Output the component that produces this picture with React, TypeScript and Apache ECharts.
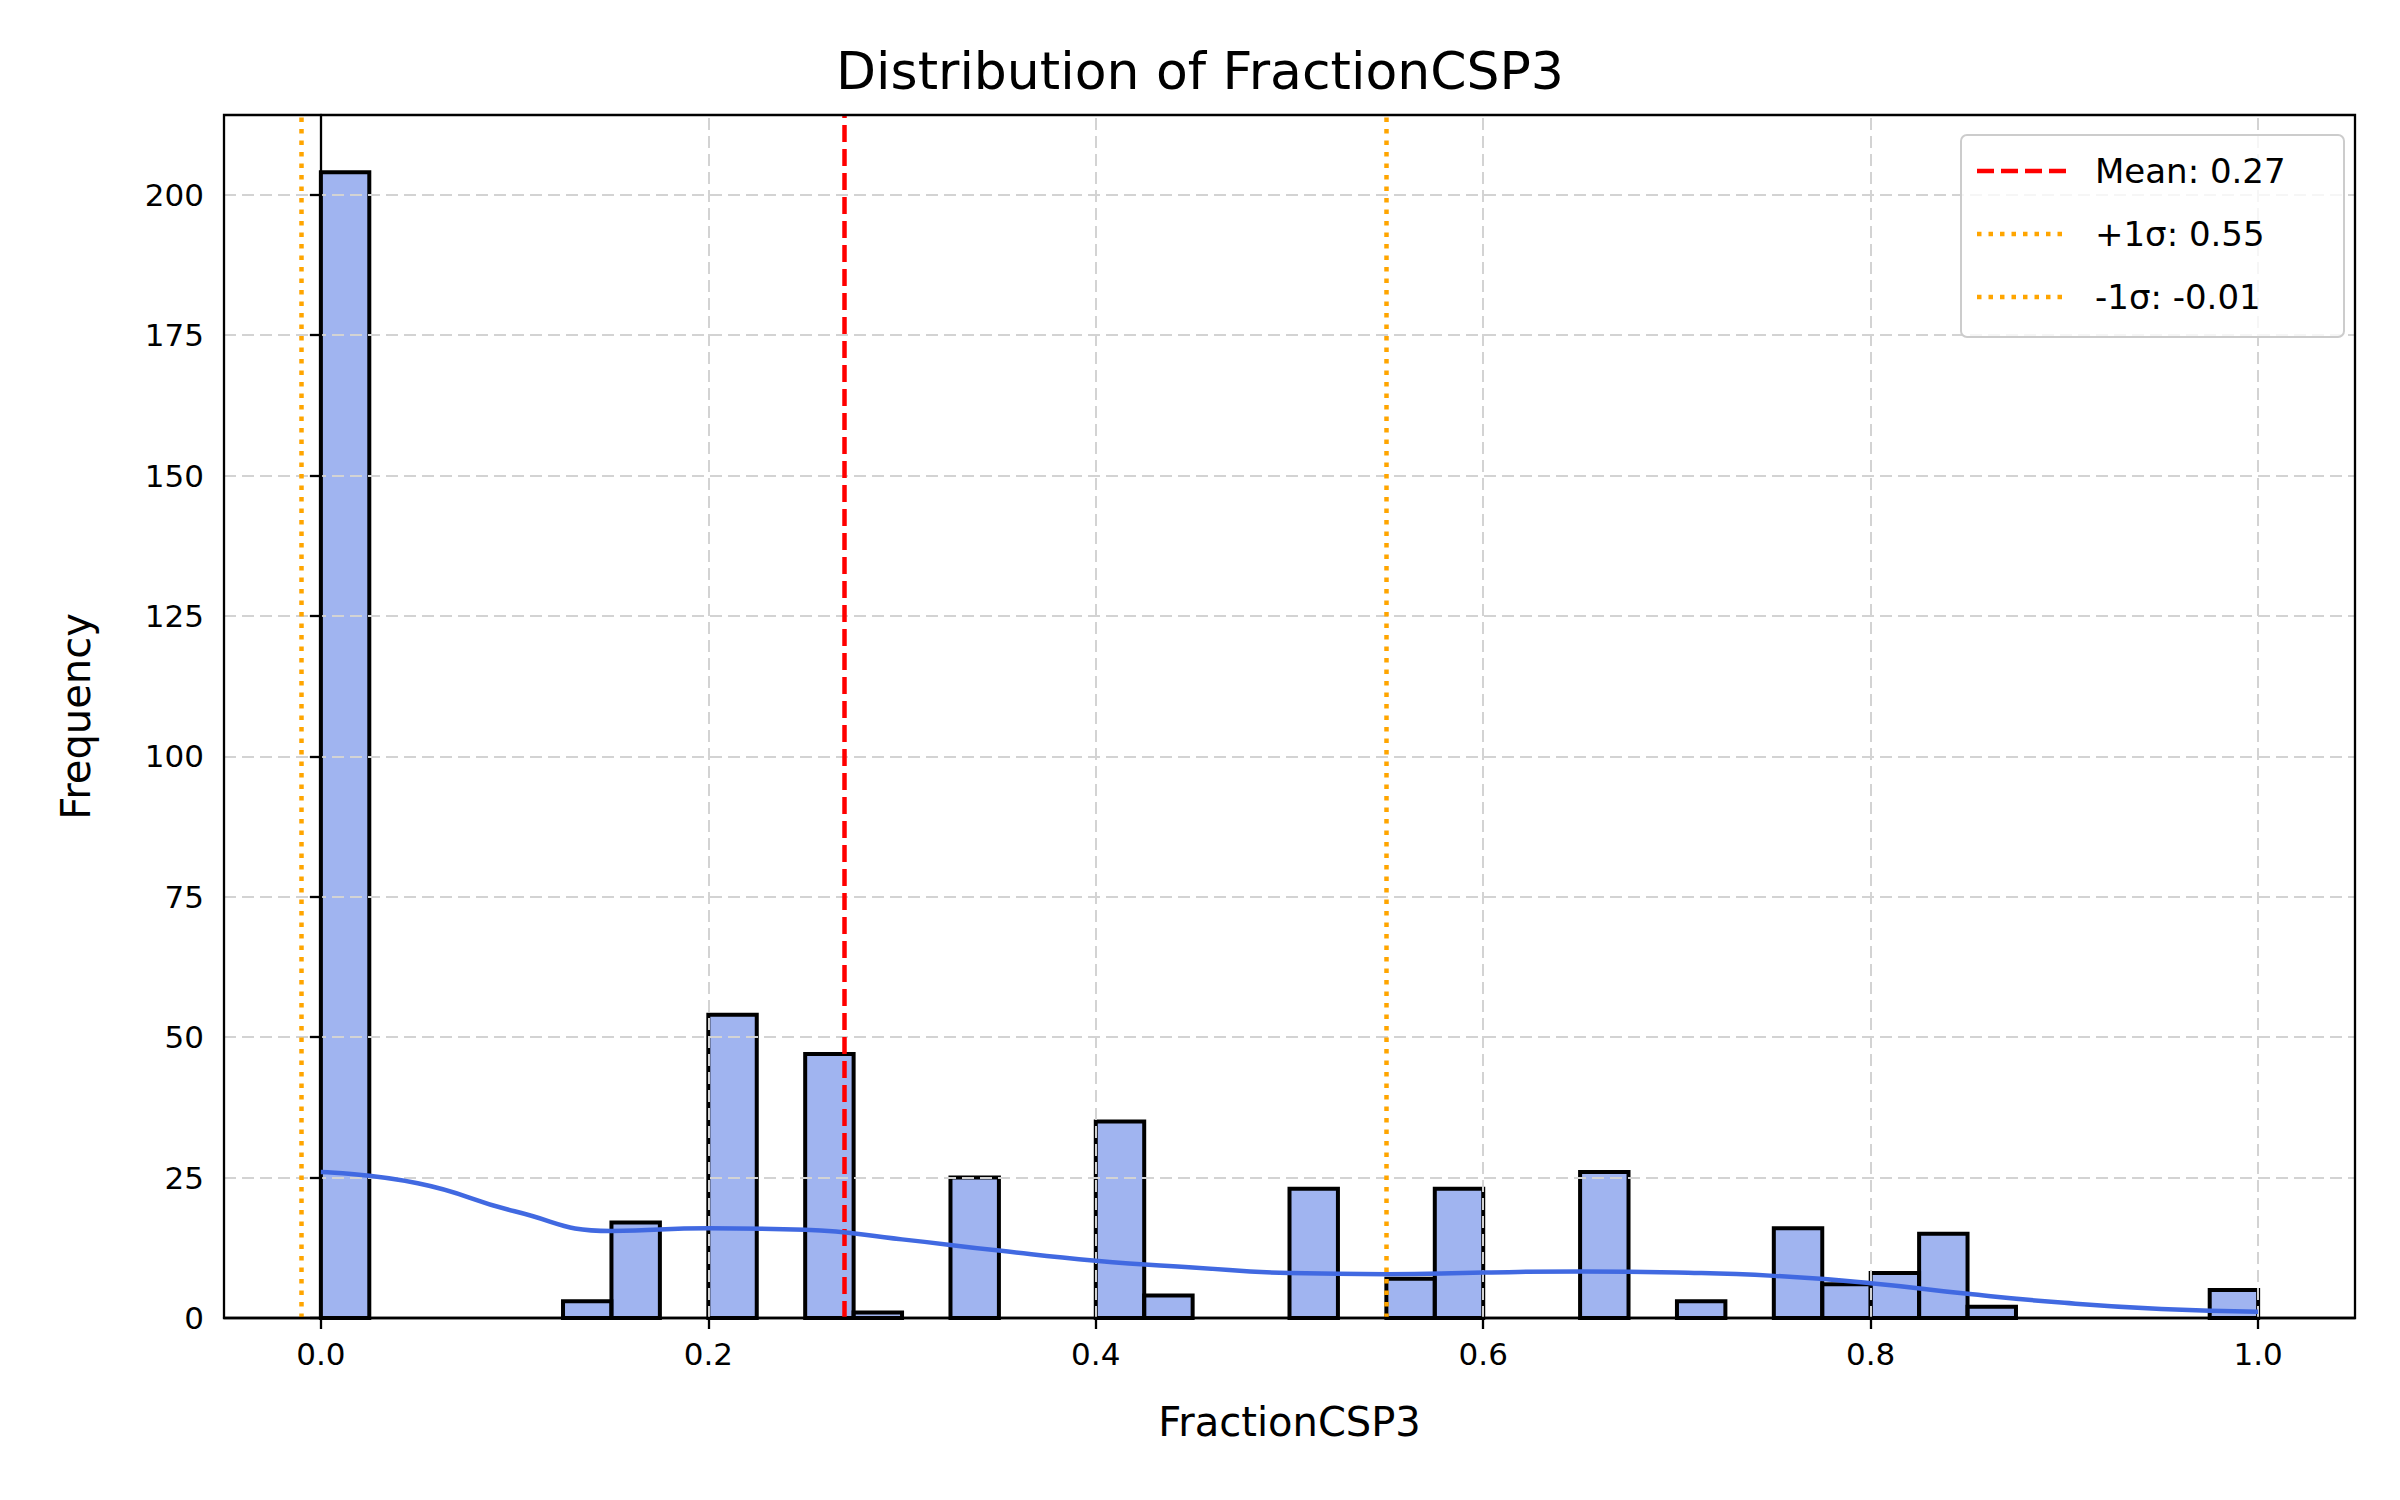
import React, { useEffect, useRef } from "react";
import * as echarts from "echarts";

const binWidth = 0.025;
const binStarts = [0, 0.125, 0.15, 0.2, 0.25, 0.275, 0.325, 0.4, 0.425, 0.5, 0.55, 0.575, 0.65, 0.7, 0.75, 0.775, 0.8, 0.825, 0.85, 0.975];
const binCounts = [204, 3, 17, 54, 47, 1, 25, 35, 4, 23, 7, 23, 26, 3, 16, 6, 8, 15, 2, 5];
const kdeX = [0, 0.05, 0.1, 0.15, 0.2, 0.25, 0.3, 0.35, 0.4, 0.45, 0.5, 0.55, 0.6, 0.65, 0.7, 0.75, 0.8, 0.85, 0.9, 0.95, 1.0];
const kdeY = [26, 24, 19, 15.5, 16, 15.7, 14, 12, 10.2, 9, 8, 7.8, 8.1, 8.3, 8.1, 7.5, 6.2, 4.3, 2.7, 1.6, 1.1];
const xTicks = [0, 0.2, 0.4, 0.6, 0.8, 1.0];
const meanVal = 0.27;
const plusSigma = 0.55;
const minusSigma = -0.01;
const legendLabels = ["Mean: 0.27", "+1σ: 0.55", "-1σ: -0.01"];

export default function App() {
  const ref = useRef<HTMLDivElement>(null);
  useEffect(() => {
    document.body.style.margin = "0";
    const chart = echarts.init(ref.current!, null, { renderer: "svg" });
    const font = "DejaVu Sans";
    const lx = 1961, ly = 135;
    const redDash: any = [17, 7];
    const dotDash: any = [4.5, 7];
    const rows = [
      { color: "red", dash: redDash, label: legendLabels[0] },
      { color: "orange", dash: dotDash, label: legendLabels[1] },
      { color: "orange", dash: dotDash, label: legendLabels[2] },
    ];
    const legendEls: any[] = [
      { type: "rect", shape: { x: lx, y: ly, width: 383, height: 202, r: 6 }, style: { fill: "rgba(255,255,255,0.8)", stroke: "#cccccc", lineWidth: 2 }, z: 100 },
    ];
    rows.forEach((r, i) => {
      const cy = ly + 36 + i * 63;
      legendEls.push({ type: "line", shape: { x1: lx + 16, y1: cy, x2: lx + 108, y2: cy }, style: { stroke: r.color, lineWidth: 4.5, lineDash: r.dash }, z: 101 });
      legendEls.push({ type: "text", x: lx + 134, y: cy, style: { text: r.label, font: `34px ${font}`, fill: "#000", verticalAlign: "middle" }, z: 101 });
    });
    chart.setOption({
      animation: false,
      backgroundColor: "#fff",
      title: { text: "Distribution of FractionCSP3", left: "center", top: 40, textStyle: { fontFamily: font, fontSize: 52, fontWeight: "normal", color: "#000" } },
      grid: { left: 224, right: 45, top: 115, bottom: 182 },
      xAxis: {
        type: "value", min: -0.05, max: 1.05,
        name: "FractionCSP3", nameLocation: "middle", nameGap: 84,
        nameTextStyle: { fontFamily: font, fontSize: 40, color: "#000" },
        axisLine: { lineStyle: { color: "#000", width: 2.3 } },
        axisTick: { show: true, length: 11, lineStyle: { color: "#000", width: 2.3 }, customValues: xTicks },
        axisLabel: { fontFamily: font, fontSize: 31, color: "#000", margin: 20, customValues: xTicks, formatter: (v: number) => v.toFixed(1) },
        splitLine: { show: false },
      },
      yAxis: {
        type: "value", min: 0, max: 214.2, interval: 25, z: 5,
        name: "Frequency", nameLocation: "middle", nameGap: 128,
        nameTextStyle: { fontFamily: font, fontSize: 40, color: "#000" },
        axisLine: { show: true, lineStyle: { color: "#000", width: 2.3 } },
        axisTick: { show: true, length: 11, lineStyle: { color: "#000", width: 2.3 } },
        axisLabel: { fontFamily: font, fontSize: 31, color: "#000", margin: 20, showMaxLabel: false },
        splitLine: { show: true, lineStyle: { color: "#d3d3d3", type: [12, 6], width: 2 } },
      },
      graphic: [
        { type: "rect", shape: { x: 224, y: 115, width: 2400 - 224 - 45, height: 1500 - 115 - 182 }, style: { fill: "none", stroke: "#000", lineWidth: 2.3 }, z: 50, silent: true },
        ...legendEls,
      ],
      series: [
        {
          type: "custom",
          data: binStarts.map((s, i) => [s, s + binWidth, binCounts[i]]),
          renderItem: (params: any, api: any) => {
            const p0 = api.coord([api.value(0), api.value(2)]);
            const p1 = api.coord([api.value(1), 0]);
            return {
              type: "rect",
              shape: { x: p0[0], y: p0[1], width: p1[0] - p0[0], height: p1[1] - p0[1] },
              style: { fill: "rgba(65,105,225,0.5)", stroke: "#000", lineWidth: 4 },
            };
          },
          z: 2,
        },
        {
          type: "line", data: [], silent: true,
          markLine: {
            symbol: "none", silent: true, label: { show: false },
            lineStyle: { color: "#d3d3d3", type: [12, 6], width: 2 },
            data: xTicks.map((v) => ({ xAxis: v })),
          },
          z: 5,
        },
        {
          type: "line", data: kdeX.map((x, i) => [x, kdeY[i]]), smooth: true, showSymbol: false,
          lineStyle: { color: "#4169e1", width: 4.5 }, z: 6,
        },
        {
          type: "line", data: [], silent: true,
          markLine: {
            symbol: "none", silent: true, label: { show: false },
            data: [
              { xAxis: meanVal, lineStyle: { color: "red", type: redDash, width: 4.5 } },
              { xAxis: plusSigma, lineStyle: { color: "orange", type: dotDash, width: 4.5 } },
              { xAxis: minusSigma, lineStyle: { color: "orange", type: dotDash, width: 4.5 } },
            ],
          },
          z: 7,
        },
      ],
    });
    return () => chart.dispose();
  }, []);
  return <div ref={ref} style={{ width: 2400, height: 1500 }} />;
}
